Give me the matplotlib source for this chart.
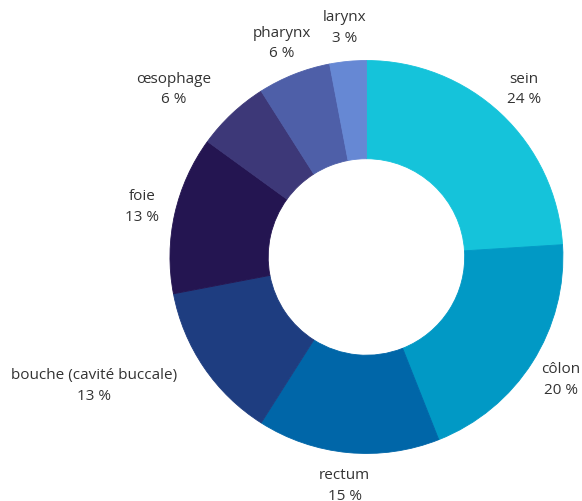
import numpy as np
import matplotlib
matplotlib.use("Agg")
import matplotlib.pyplot as plt

# Cancer sites, share in percent (clockwise from top)
sites = ["sein", "côlon", "rectum", "bouche (cavité buccale)", "foie",
         "œsophage", "pharynx", "larynx"]
shares = [24, 20, 15, 13, 13, 6, 6, 3]
colors = ["#15C3DA", "#0199C5", "#0066A8", "#1E3D80", "#241551",
          "#3D3878", "#4E5FA8", "#6688D4"]
# extra horizontal push for wide labels (in radius units)
label_push = [0, 0, 0, -0.42, 0, -0.18, 0, 0]

plt.rcParams["font.family"] = ["Open Sans", "DejaVu Sans"]

fig = plt.figure(figsize=(5.82, 5.01), dpi=100)
ax = fig.add_axes([0, 0, 1, 1])

wedges, _ = ax.pie(shares, colors=colors, startangle=90, counterclock=False,
                   radius=1.0, wedgeprops=dict(width=0.5, linewidth=0.6))
for w in wedges:
    w.set_edgecolor(w.get_facecolor())

lab_r = 1.17
for w, name, val, push in zip(wedges, sites, shares, label_push):
    ang = np.deg2rad((w.theta1 + w.theta2) / 2.0)
    x = lab_r * np.cos(ang) + push
    y = lab_r * np.sin(ang)
    ax.text(x, y, "{}\n{} %".format(name, val), ha="center", va="center",
            fontsize=11, color="#333333", linespacing=1.5)

ax.set_xlim(-1.865, 1.097)
ax.set_ylim(-1.242, 1.308)
ax.set_aspect("equal")
ax.axis("off")

fig.savefig("out.png", dpi=100)
